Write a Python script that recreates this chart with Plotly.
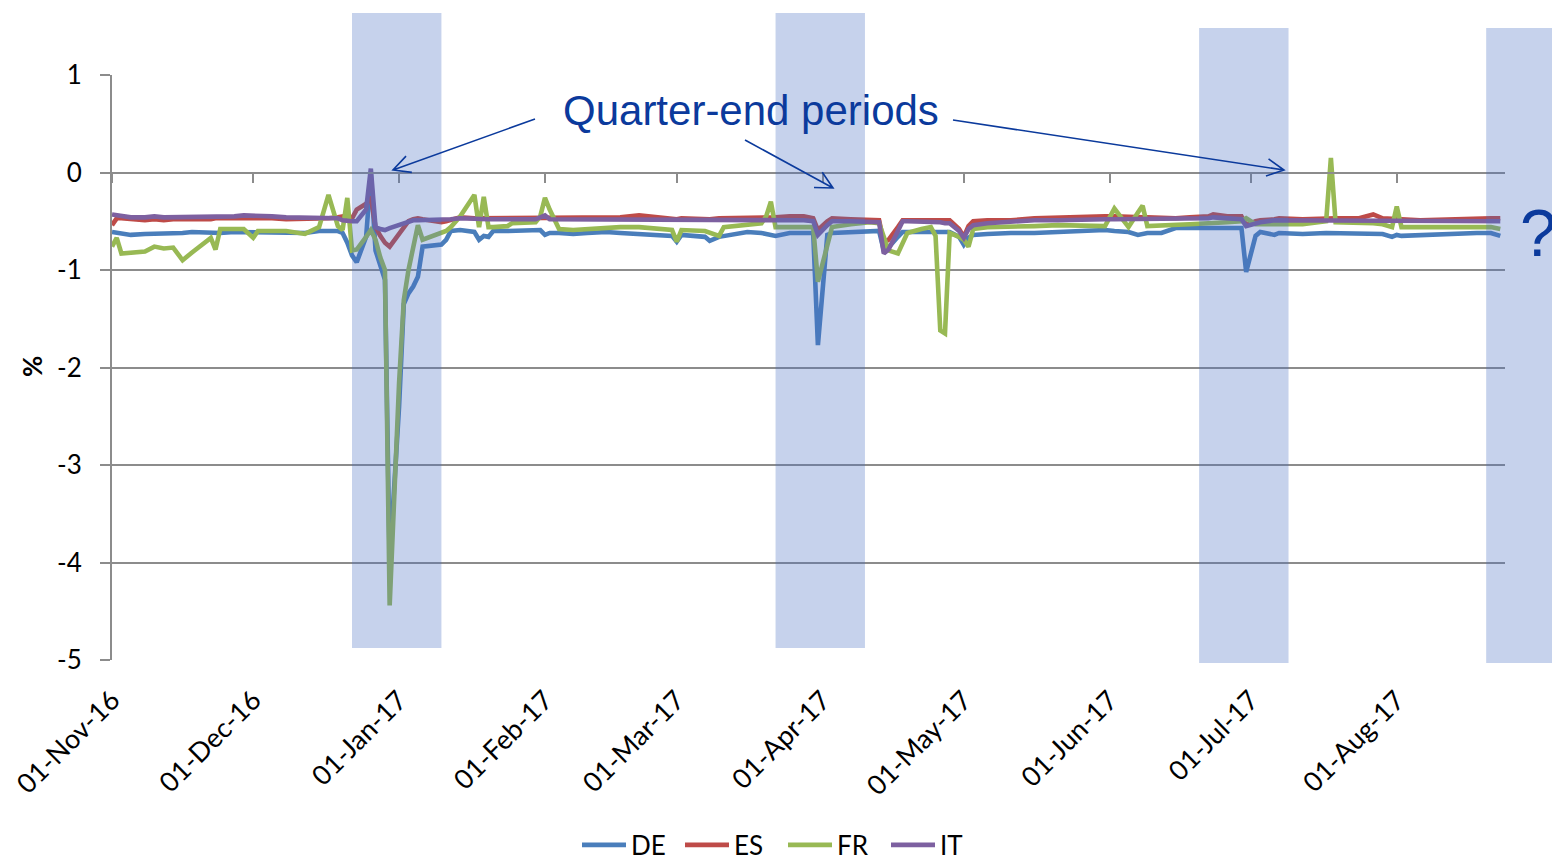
import math
import pandas as pd
import plotly.graph_objects as go

# ---------------- data ----------------
dates = [
    "2016-11-01", "2016-11-02", "2016-11-03", "2016-11-05", "2016-11-08", "2016-11-10", "2016-11-12",
    "2016-11-14", "2016-11-16", "2016-11-18", "2016-11-22", "2016-11-23", "2016-11-24", "2016-11-27", "2016-11-29",
    "2016-12-01", "2016-12-02", "2016-12-05", "2016-12-08", "2016-12-12", "2016-12-15", "2016-12-17", "2016-12-19",
    "2016-12-20", "2016-12-21", "2016-12-22", "2016-12-23", "2016-12-25", "2016-12-26", "2016-12-27", "2016-12-28",
    "2016-12-29", "2016-12-30",
    "2017-01-01", "2017-01-02", "2017-01-03", "2017-01-04", "2017-01-05", "2017-01-06", "2017-01-10", "2017-01-11",
    "2017-01-12", "2017-01-14", "2017-01-17", "2017-01-18", "2017-01-19", "2017-01-20", "2017-01-21", "2017-01-24",
    "2017-01-25", "2017-01-30", "2017-01-31",
    "2017-02-01", "2017-02-02", "2017-02-04", "2017-02-07", "2017-02-10", "2017-02-14", "2017-02-17", "2017-02-21",
    "2017-02-23", "2017-02-26", "2017-02-28",
    "2017-03-01", "2017-03-02", "2017-03-07", "2017-03-08", "2017-03-10", "2017-03-11", "2017-03-16", "2017-03-19",
    "2017-03-20", "2017-03-21", "2017-03-22", "2017-03-25", "2017-03-28", "2017-03-30", "2017-03-31",
    "2017-04-02", "2017-04-03", "2017-04-07", "2017-04-11", "2017-04-13", "2017-04-14", "2017-04-15", "2017-04-17",
    "2017-04-18", "2017-04-19", "2017-04-22", "2017-04-24", "2017-04-25", "2017-04-26", "2017-04-27", "2017-04-28",
    "2017-04-30",
    "2017-05-01", "2017-05-02", "2017-05-03", "2017-05-06", "2017-05-09", "2017-05-11", "2017-05-16", "2017-05-21",
    "2017-05-26", "2017-05-31",
    "2017-06-02", "2017-06-05", "2017-06-07", "2017-06-08", "2017-06-09", "2017-06-12", "2017-06-15", "2017-06-18",
    "2017-06-22", "2017-06-23", "2017-06-26", "2017-06-29", "2017-06-30",
    "2017-07-02", "2017-07-03", "2017-07-06", "2017-07-07", "2017-07-12", "2017-07-17", "2017-07-18", "2017-07-19",
    "2017-07-24", "2017-07-27", "2017-07-29", "2017-07-31",
    "2017-08-01", "2017-08-02", "2017-08-06", "2017-08-11", "2017-08-15", "2017-08-18", "2017-08-21", "2017-08-23",
]

de = [
    -0.61, -0.62, -0.63, -0.64, -0.63, -0.63, -0.62, -0.62, -0.62, -0.61, -0.62, -0.62, -0.62, -0.61, -0.61,
    -0.62, -0.61, -0.61, -0.61, -0.62, -0.60, -0.60, -0.60, -0.62, -0.72, -0.85, -0.92, -0.66, -0.02, -0.80, -0.97, -1.10, -4.00,
    -2.40, -1.35, -1.24, -1.17, -1.07, -0.76, -0.74, -0.69, -0.60, -0.59, -0.61, -0.69, -0.65, -0.66, -0.60, -0.60, -0.60, -0.60, -0.59,
    -0.64, -0.62, -0.62, -0.63, -0.62, -0.61, -0.62, -0.63, -0.63, -0.64, -0.65,
    -0.71, -0.64, -0.66, -0.70, -0.66, -0.65, -0.61, -0.62, -0.63, -0.64, -0.65, -0.62, -0.62, -0.62, -1.77,
    -0.64, -0.62, -0.61, -0.60, -0.60, -0.80, -0.77, -0.66, -0.61, -0.61, -0.61, -0.62, -0.62, -0.62, -0.61, -0.61, -0.66,
    -0.74, -0.67, -0.64, -0.63, -0.62, -0.62, -0.62, -0.61, -0.60, -0.59,
    -0.60, -0.61, -0.64, -0.63, -0.62, -0.62, -0.57, -0.57, -0.57, -0.57, -0.57, -0.57, -1.02,
    -0.65, -0.61, -0.64, -0.62, -0.63, -0.62, -0.62, -0.62, -0.62, -0.63, -0.63, -0.66,
    -0.64, -0.65, -0.64, -0.63, -0.62, -0.62, -0.62, -0.65,
]

es = [
    -0.54, -0.47, -0.47, -0.48, -0.49, -0.48, -0.49, -0.48, -0.48, -0.49, -0.48, -0.47, -0.47, -0.47, -0.46,
    -0.46, -0.47, -0.47, -0.48, -0.48, -0.47, -0.47, -0.46, -0.45, -0.49, -0.47, -0.38, -0.32, -0.25, -0.56, -0.65, -0.72, -0.76,
    -0.62, -0.55, -0.50, -0.48, -0.47, -0.48, -0.51, -0.50, -0.49, -0.46, -0.47, -0.47, -0.47, -0.47, -0.47, -0.47, -0.47, -0.47, -0.46,
    -0.46, -0.47, -0.47, -0.47, -0.47, -0.46, -0.46, -0.44, -0.45, -0.46, -0.47,
    -0.48, -0.47, -0.48, -0.48, -0.47, -0.47, -0.47, -0.47, -0.47, -0.46, -0.46, -0.45, -0.45, -0.47, -0.59,
    -0.50, -0.47, -0.48, -0.49, -0.49, -0.72, -0.69, -0.56, -0.49, -0.49, -0.49, -0.49, -0.49, -0.49, -0.49, -0.49, -0.58,
    -0.66, -0.55, -0.50, -0.49, -0.49, -0.49, -0.47, -0.46, -0.46, -0.45,
    -0.45, -0.46, -0.46, -0.46, -0.46, -0.47, -0.47, -0.46, -0.45, -0.43, -0.45, -0.45, -0.54,
    -0.50, -0.49, -0.48, -0.47, -0.48, -0.47, -0.47, -0.47, -0.47, -0.43, -0.47, -0.48,
    -0.48, -0.48, -0.49, -0.48, -0.48, -0.47, -0.47, -0.47,
]

fr = [
    -0.76, -0.67, -0.83, -0.82, -0.81, -0.76, -0.78, -0.77, -0.90, -0.82, -0.67, -0.79, -0.58, -0.58, -0.58,
    -0.67, -0.60, -0.60, -0.60, -0.63, -0.56, -0.23, -0.55, -0.59, -0.26, -0.80, -0.79, -0.66, -0.59, -0.69, -0.87, -1.00, -4.44,
    -2.16, -1.31, -1.00, -0.75, -0.54, -0.69, -0.62, -0.60, -0.56, -0.45, -0.23, -0.56, -0.25, -0.56, -0.56, -0.55, -0.52, -0.51, -0.45,
    -0.26, -0.38, -0.58, -0.59, -0.58, -0.57, -0.56, -0.56, -0.57, -0.58, -0.59,
    -0.71, -0.59, -0.60, -0.62, -0.65, -0.56, -0.54, -0.52, -0.45, -0.30, -0.56, -0.56, -0.56, -0.56, -1.12,
    -0.72, -0.56, -0.53, -0.51, -0.52, -0.66, -0.80, -0.83, -0.72, -0.62, -0.58, -0.56, -0.65, -1.62, -1.65, -0.62, -0.66,
    -0.69, -0.76, -0.58, -0.56, -0.56, -0.55, -0.55, -0.54, -0.54, -0.55,
    -0.37, -0.56, -0.41, -0.34, -0.55, -0.54, -0.53, -0.53, -0.52, -0.52, -0.51, -0.50, -0.47,
    -0.53, -0.53, -0.53, -0.52, -0.53, -0.50, 0.15, -0.51, -0.51, -0.52, -0.53, -0.56,
    -0.35, -0.56, -0.56, -0.56, -0.55, -0.55, -0.56, -0.58,
]

it = [
    -0.43, -0.44, -0.45, -0.46, -0.46, -0.45, -0.46, -0.46, -0.45, -0.46, -0.45, -0.45, -0.45, -0.45, -0.44,
    -0.44, -0.45, -0.45, -0.46, -0.46, -0.46, -0.46, -0.47, -0.49, -0.50, -0.50, -0.50, -0.38, 0.04, -0.56, -0.58, -0.59, -0.57,
    -0.54, -0.52, -0.50, -0.49, -0.49, -0.49, -0.49, -0.49, -0.48, -0.47, -0.48, -0.48, -0.48, -0.48, -0.48, -0.48, -0.48, -0.48, -0.46,
    -0.44, -0.48, -0.48, -0.48, -0.48, -0.48, -0.48, -0.48, -0.48, -0.48, -0.49,
    -0.49, -0.48, -0.49, -0.49, -0.49, -0.49, -0.48, -0.48, -0.49, -0.48, -0.48, -0.48, -0.49, -0.50, -0.64,
    -0.54, -0.50, -0.50, -0.50, -0.51, -0.83, -0.79, -0.60, -0.50, -0.50, -0.50, -0.50, -0.51, -0.51, -0.52, -0.52, -0.60,
    -0.67, -0.58, -0.54, -0.52, -0.51, -0.50, -0.49, -0.49, -0.48, -0.48,
    -0.48, -0.48, -0.48, -0.48, -0.48, -0.48, -0.48, -0.48, -0.47, -0.46, -0.47, -0.48, -0.55,
    -0.52, -0.51, -0.49, -0.49, -0.50, -0.49, -0.49, -0.49, -0.49, -0.49, -0.49, -0.49,
    -0.49, -0.49, -0.49, -0.49, -0.49, -0.49, -0.49, -0.50,
]

series_names = ["DE", "ES", "FR", "IT"]
series_values = [de, es, fr, it]
series_colors = ["#4A7EBB", "#BE4B48", "#98B954", "#7D60A0"]

# quarter-end shaded periods
band_starts = ["2016-12-22", "2017-03-22", "2017-06-20", "2017-08-20"]
band_ends = ["2017-01-10", "2017-04-10", "2017-07-09", "2017-09-05"]

x_range = ["2016-11-01", "2017-08-24"]
y_ticks = [1, 0, -1, -2, -3, -4, -5]
y_tick_text = ["1", "0", "-1", "-2", "-3", "-4", "-5"]

# ---------------- layout helpers ----------------
W, H = 1560, 858
OFF = 8                                   # page body margin
L, R, T, B = 112, 1505, 75, 660          # plot area in screen pixels
TXT_BLUE = "#0B3A9C"
GRID = "#8C8C8C"
FONT = "Lato, Carlito, Calibri, sans-serif"


def pxx(x):
    return (x - L) / (R - L)


def pxy(y):
    return (B - y) / (B - T)


x0_ts, x1_ts = pd.Timestamp(x_range[0]), pd.Timestamp(x_range[1])


def date_frac(d):
    return (pd.Timestamp(d) - x0_ts) / (x1_ts - x0_ts)


def arrow_path(tail, tip, head=19, ang=27):
    tx, ty = tail
    hx, hy = tip
    dx, dy = hx - tx, hy - ty
    n = math.hypot(dx, dy)
    ux, uy = dx / n, dy / n
    pts = []
    for s in (1, -1):
        a = math.radians(ang) * s
        rx = ux * math.cos(a) - uy * math.sin(a)
        ry = ux * math.sin(a) + uy * math.cos(a)
        pts.append((hx - head * rx, hy - head * ry))
    p = f"M {pxx(tx)} {pxy(ty)} L {pxx(hx)} {pxy(hy)} "
    p += f"M {pxx(pts[0][0])} {pxy(pts[0][1])} L {pxx(hx)} {pxy(hy)} L {pxx(pts[1][0])} {pxy(pts[1][1])}"
    return p


# ---------------- figure ----------------
fig = go.Figure()
for name, vals, col in zip(series_names, series_values, series_colors):
    fig.add_trace(go.Scatter(x=dates, y=vals, name=name, mode="lines",
                             line=dict(color=col, width=4.6), hoverinfo="x+y+name"))

# helper trace so the axis drawn at y = 0 exists
fig.add_trace(go.Scatter(x=[dates[0]], y=[0], xaxis="x2", mode="markers",
                         marker=dict(opacity=0), showlegend=False, hoverinfo="skip"))

shapes = []
band_y = [(pxy(648), pxy(13)), (pxy(648), pxy(13)), (pxy(663), pxy(28)), (pxy(663), pxy(28))]
for (s, e), (yb, yt) in zip(zip(band_starts, band_ends), band_y):
    shapes.append(dict(type="rect", xref="paper", yref="paper",
                       x0=date_frac(s), x1=date_frac(e), y0=yb, y1=yt,
                       fillcolor="rgba(70,110,195,0.31)", line=dict(width=0), layer="above"))

for tail, tip in [((535, 119), (393, 170)), ((745, 140), (833, 188)), ((953, 120), (1284, 170))]:
    shapes.append(dict(type="path", xref="paper", yref="paper", path=arrow_path(tail, tip),
                       line=dict(color=TXT_BLUE, width=1.6), layer="above"))

annotations = [
    dict(text="Quarter-end periods", xref="paper", yref="paper", x=pxx(751), y=pxy(110),
         showarrow=False, xanchor="center", yanchor="middle",
         font=dict(family="Liberation Sans, Arial, sans-serif", size=42, color=TXT_BLUE)),
    dict(text="?", xref="paper", yref="paper", x=pxx(1538), y=pxy(233),
         showarrow=False, xanchor="center", yanchor="middle",
         font=dict(family="Liberation Sans, Arial, sans-serif", size=66, color=TXT_BLUE)),
    dict(text="<b>%</b>", xref="paper", yref="paper", x=pxx(32), y=pxy(367),
         showarrow=False, xanchor="center", yanchor="middle", textangle=-90,
         font=dict(family=FONT, size=26, color="black")),
]

fig.update_layout(
    width=W, height=H,
    margin=dict(l=L - OFF, r=W - (R - OFF), t=T - OFF, b=H - (B - OFF), autoexpand=False),
    paper_bgcolor="white", plot_bgcolor="white",
    font=dict(family=FONT, size=26, color="black"),
    showlegend=True,
    legend=dict(orientation="h", xref="paper", x=pxx(783), xanchor="center",
                yref="container", y=1 - (845 - OFF) / H, yanchor="middle",
                font=dict(family=FONT, size=26, color="black"), bgcolor="rgba(0,0,0,0)",
                itemwidth=44, entrywidth=44, tracegroupgap=0),
    xaxis=dict(type="date", range=x_range, dtick="M1", tick0=x_range[0], tickformat="%d-%b-%y",
               tickangle=-45, showgrid=False, zeroline=False, showline=False, ticks="",
               tickfont=dict(family=FONT, size=27, color="black"), ticklabelstandoff=18),
    xaxis2=dict(type="date", range=x_range, dtick="M1", tick0=x_range[0], overlaying="x",
                anchor="free", position=pxy(172.5), side="bottom", showticklabels=False,
                ticks="outside", ticklen=9, tickwidth=2, tickcolor=GRID,
                showline=True, linecolor=GRID, linewidth=2, showgrid=False, zeroline=False),
    yaxis=dict(range=[-5, 1], tickvals=y_ticks, ticktext=y_tick_text, showgrid=True,
               gridcolor=GRID, gridwidth=2,
               zeroline=False, showline=True, linecolor=GRID, linewidth=2,
               ticks="outside", ticklen=10, tickwidth=2, tickcolor=GRID,
               tickfont=dict(family=FONT, size=26, color="black"), ticklabelstandoff=13),
    shapes=shapes,
    annotations=annotations,
)

fig.write_html("out.html")
